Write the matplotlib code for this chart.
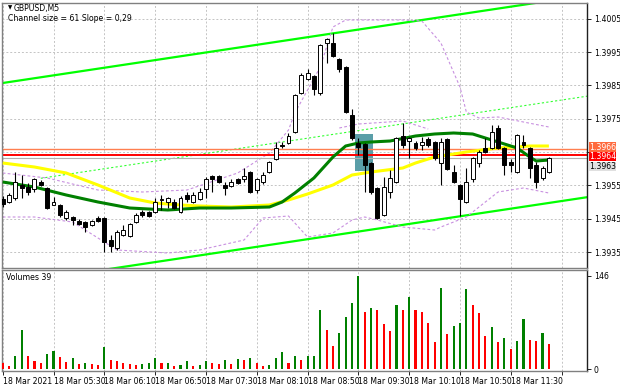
import matplotlib
matplotlib.use("Agg")
import matplotlib.pyplot as plt
import matplotlib.transforms as mtransforms
import numpy as np

# GBPUSD M5, 18 Mar 2021, bars from 04:50 to 12:00
opens = [
    1.39509, 1.39500, 1.39512, 1.39551, 1.39545, 1.39539, 1.39560, 1.39542, 1.39491, 1.39491,
    1.39452, 1.39455, 1.39443, 1.39440, 1.39431, 1.39452, 1.39452, 1.39386, 1.39362, 1.39401,
    1.39398, 1.39440, 1.39470, 1.39470, 1.39470, 1.39506, 1.39500, 1.39500, 1.39470, 1.39521,
    1.39500, 1.39509, 1.39539, 1.39578, 1.39578, 1.39551, 1.39548, 1.39569, 1.39569, 1.39590,
    1.39536, 1.39560, 1.39590, 1.39629, 1.39671, 1.39677, 1.39710, 1.39827, 1.39869, 1.39878,
    1.39827, 1.39977, 1.39977, 1.39929, 1.39905, 1.39761, 1.39677, 1.39674, 1.39617, 1.39542,
    1.39461, 1.39530, 1.39560, 1.39698, 1.39683, 1.39677, 1.39671, 1.39689, 1.39680, 1.39617,
    1.39689, 1.39590, 1.39551, 1.39500, 1.39569, 1.39617, 1.39662, 1.39662, 1.39722, 1.39662,
    1.39620, 1.39590, 1.39680, 1.39662, 1.39611, 1.39572, 1.39590]
highs = [
    1.39518, 1.39527, 1.39590, 1.39581, 1.39557, 1.39572, 1.39566, 1.39545, 1.39515, 1.39494,
    1.39476, 1.39458, 1.39449, 1.39443, 1.39446, 1.39458, 1.39455, 1.39401, 1.39416, 1.39431,
    1.39437, 1.39467, 1.39476, 1.39473, 1.39512, 1.39521, 1.39515, 1.39509, 1.39518, 1.39530,
    1.39530, 1.39542, 1.39575, 1.39581, 1.39581, 1.39560, 1.39569, 1.39572, 1.39602, 1.39593,
    1.39572, 1.39590, 1.39623, 1.39680, 1.39680, 1.39707, 1.39824, 1.39887, 1.39899, 1.39881,
    1.39974, 1.39992, 1.40007, 1.39932, 1.39908, 1.39779, 1.39692, 1.39677, 1.39620, 1.39545,
    1.39575, 1.39596, 1.39695, 1.39737, 1.39695, 1.39683, 1.39695, 1.39695, 1.39683, 1.39692,
    1.39692, 1.39611, 1.39554, 1.39602, 1.39635, 1.39656, 1.39692, 1.39731, 1.39731, 1.39665,
    1.39629, 1.39704, 1.39701, 1.39665, 1.39620, 1.39608, 1.39635]
lows = [
    1.39485, 1.39497, 1.39506, 1.39512, 1.39521, 1.39530, 1.39548, 1.39479, 1.39491, 1.39455,
    1.39446, 1.39431, 1.39431, 1.39410, 1.39428, 1.39440, 1.39350, 1.39350, 1.39356, 1.39398,
    1.39395, 1.39437, 1.39455, 1.39455, 1.39467, 1.39476, 1.39482, 1.39479, 1.39467, 1.39500,
    1.39497, 1.39506, 1.39512, 1.39530, 1.39557, 1.39521, 1.39545, 1.39554, 1.39560, 1.39527,
    1.39527, 1.39554, 1.39587, 1.39626, 1.39662, 1.39674, 1.39707, 1.39824, 1.39866, 1.39821,
    1.39821, 1.39917, 1.39935, 1.39890, 1.39767, 1.39686, 1.39641, 1.39530, 1.39524, 1.39449,
    1.39458, 1.39512, 1.39557, 1.39662, 1.39632, 1.39656, 1.39656, 1.39665, 1.39626, 1.39551,
    1.39596, 1.39557, 1.39458, 1.39497, 1.39560, 1.39605, 1.39647, 1.39659, 1.39659, 1.39581,
    1.39590, 1.39587, 1.39662, 1.39572, 1.39542, 1.39566, 1.39587]
closes = [
    1.39494, 1.39521, 1.39560, 1.39542, 1.39530, 1.39569, 1.39551, 1.39482, 1.39500, 1.39461,
    1.39470, 1.39446, 1.39434, 1.39425, 1.39443, 1.39443, 1.39380, 1.39368, 1.39410, 1.39416,
    1.39434, 1.39461, 1.39461, 1.39458, 1.39500, 1.39509, 1.39512, 1.39482, 1.39512, 1.39509,
    1.39521, 1.39530, 1.39569, 1.39569, 1.39560, 1.39542, 1.39560, 1.39557, 1.39578, 1.39530,
    1.39569, 1.39581, 1.39620, 1.39662, 1.39668, 1.39698, 1.39821, 1.39881, 1.39887, 1.39839,
    1.39971, 1.39989, 1.39938, 1.39899, 1.39770, 1.39692, 1.39665, 1.39611, 1.39530, 1.39452,
    1.39545, 1.39572, 1.39692, 1.39671, 1.39692, 1.39662, 1.39680, 1.39671, 1.39632, 1.39680,
    1.39599, 1.39560, 1.39509, 1.39560, 1.39632, 1.39650, 1.39650, 1.39710, 1.39662, 1.39611,
    1.39611, 1.39701, 1.39671, 1.39602, 1.39560, 1.39602, 1.39632]
volumes = [
    9, 5, 20, 61, 20, 13, 10, 23, 28, 19, 11, 17, 8, 9, 8, 7, 34, 14, 13, 10, 8, 6,
    8, 10, 17, 9, 10, 5, 7, 13, 5, 6, 13, 9, 8, 14, 8, 15, 14, 18, 10, 5, 7, 18, 27, 10, 20, 14, 20,
    21, 92, 61, 36, 57, 82, 104, 146, 89, 95, 93, 70, 60, 100, 93, 113, 92, 90, 72, 43, 127,
    55, 67, 72, 125, 101, 87, 52, 66, 43, 49, 31, 44, 78, 45, 44, 57, 39]

time_labels = ["18 Mar 2021", "18 Mar 05:30", "18 Mar 06:10", "18 Mar 06:50", "18 Mar 07:30",
               "18 Mar 08:10", "18 Mar 08:50", "18 Mar 09:30", "18 Mar 10:10", "18 Mar 10:50",
               "18 Mar 11:30"]
price_ticks = [1.4005, 1.3995, 1.3985, 1.3975, 1.3965, 1.3955, 1.3945, 1.3935]

# indicator lines (bar index, price)
yellow_bars = [0, 5, 10, 15, 20, 24, 28, 31, 36, 42, 45, 48, 52, 55, 58, 63, 65, 68, 73, 78, 83, 86]
yellow_vals = [1.39617, 1.39605, 1.39587, 1.39551, 1.39512, 1.39497, 1.39491, 1.39488, 1.39485,
               1.39491, 1.39506, 1.39524, 1.39551, 1.39581, 1.39590, 1.39602, 1.39617, 1.39635,
               1.39650, 1.39662, 1.39668, 1.39668]
green_bars = [0, 5, 10, 15, 20, 26, 31, 36, 42, 44, 46, 49, 52, 54, 56, 58, 61, 65, 68, 71, 74,
              77, 81, 83, 84, 86]
green_vals = [1.39560, 1.39545, 1.39521, 1.39500, 1.39482, 1.39476, 1.39482, 1.39482, 1.39485,
              1.39500, 1.39527, 1.39572, 1.39635, 1.39668, 1.39677, 1.39680, 1.39683, 1.39698,
              1.39704, 1.39707, 1.39704, 1.39686, 1.39662, 1.39635, 1.39623, 1.39626]
band_up_bars = [0, 7, 15, 22, 29, 37, 42, 45, 46, 50, 52, 54, 63, 66, 69, 72, 73, 75, 78, 86]
band_up_vals = [1.39587, 1.39572, 1.39536, 1.39530, 1.39536, 1.39587, 1.39647, 1.39716, 1.39767,
                1.39905, 1.40025, 1.40046, 1.40046, 1.40043, 1.39977, 1.39845, 1.39770, 1.39752,
                1.39755, 1.39725]
band_up2_bars = [53, 56, 63, 67]
band_up2_vals = [1.39722, 1.39734, 1.39743, 1.39719]
band_lo_bars = [0, 5, 11, 15, 18, 26, 31, 38, 41, 45, 48, 52, 55, 57, 59, 63, 68, 69, 73, 78, 82, 86]
band_lo_vals = [1.39455, 1.39455, 1.39440, 1.39392, 1.39356, 1.39347, 1.39356, 1.39386, 1.39452,
                1.39458, 1.39395, 1.39407, 1.39446, 1.39455, 1.39446, 1.39425, 1.39416, 1.39425,
                1.39455, 1.39530, 1.39542, 1.39527]

chan_bars = [0, 80]
chan_upper = [1.39857, 1.40086]
chan_width = 0.00606

level_orange = 1.3966
level_red = 1.3964
bid = 1.39632
box_bars = (55.5, 58.3)
box_prices = (1.39593, 1.39704)

FS = 5.6
grid_kw = dict(color="#c4c4c4", linestyle=(0, (2, 2)), linewidth=0.7)

fig = plt.figure(figsize=(6.2, 3.88), dpi=100)
ax = fig.add_axes([2 / 620, 1 - 268 / 388, 585 / 620, 265 / 388])
axv = fig.add_axes([2 / 620, 17 / 388, 585 / 620, 101 / 388])

n = len(opens)
x = np.arange(n)
o = np.array(opens); c = np.array(closes)
grid_bars = np.arange(0, 89, 8)

for a in (ax, axv):
    a.set_xlim(-0.11, 92.0)
    a.set_xticks(grid_bars)
    a.grid(axis="x", **grid_kw)
    a.set_axisbelow(True)
    for s in a.spines.values():
        s.set_color("#808080")
        s.set_linewidth(1.0)
    a.spines["right"].set_color("#202020")

ax.set_ylim(1.39302, 1.40097)
ax.set_yticks(price_ticks)
# 1.3965 sits under the level labels on the reference, so its text is left blank
ax.set_yticklabels(["" if p == 1.3965 else f"{p:.4f}" for p in price_ticks])
ax.grid(axis="y", **grid_kw)
ax.yaxis.tick_right()
ax.tick_params(axis="y", labelsize=FS, length=3, width=0.6, pad=2, colors="black")
ax.tick_params(axis="x", length=0, labelbottom=False)

# box
ax.add_patch(plt.Rectangle((box_bars[0], box_prices[0]), box_bars[1] - box_bars[0],
                           box_prices[1] - box_prices[0], facecolor="#5a9ea8", edgecolor="none", zorder=1))

# channel
slope = (chan_upper[1] - chan_upper[0]) / (chan_bars[1] - chan_bars[0])
cx = np.array([-1, 93])
up = chan_upper[0] + slope * (cx - chan_bars[0])
ax.plot(cx, up, color="#00ff00", lw=1.6, zorder=2)
ax.plot(cx, up - chan_width, color="#00ff00", lw=1.6, zorder=2)
mx = np.array([6, 93])
ax.plot(mx, chan_upper[0] + slope * (mx - chan_bars[0]) - chan_width / 2, color="#33ff33",
        lw=0.8, linestyle=(0, (2, 2)), zorder=2)

# bands
band_kw = dict(color="#c890e0", lw=0.8, linestyle=(0, (2.5, 2)), zorder=2)
ax.plot(band_up_bars, band_up_vals, **band_kw)
ax.plot(band_up2_bars, band_up2_vals, **band_kw)
ax.plot(band_lo_bars, band_lo_vals, **band_kw)

# levels
ax.axhline(bid, color="#b0b0b0", lw=0.8, zorder=2)
ax.axhline(level_orange, color="#ff7f50", lw=1.0, zorder=2)
ax.axhline(level_red, color="#ff0000", lw=1.4, zorder=2)

# moving averages
ax.plot(yellow_bars, yellow_vals, color="#ffff00", lw=2.2, zorder=3, solid_capstyle="butt")
ax.plot(green_bars, green_vals, color="#008000", lw=2.2, zorder=3, solid_capstyle="butt")

# candles
ax.vlines(x, lows, highs, color="black", lw=0.8, zorder=4)
bull = c >= o
body_lo = np.minimum(o, c)
body_h = np.maximum(np.abs(c - o), 0.00003)
ax.bar(x, body_h, bottom=body_lo, width=0.62, color=np.where(bull, "white", "black"),
       edgecolor="black", linewidth=0.7, zorder=5)

# price labels on the right, stacked so they touch but do not cover each other
trans = mtransforms.blended_transform_factory(ax.transAxes, ax.transData)
lab_kw = dict(transform=trans, fontsize=FS, va="center", ha="left", clip_on=False, zorder=10)
box = "square,pad=0.03"
ax.text(1.003, 1.39665, f"{level_orange:.4f}", color="white",
        bbox=dict(boxstyle=box, fc="#ff6a3d", ec="none"), **lab_kw)
ax.text(1.003, 1.39636, f"{level_red:.4f}", color="white",
        bbox=dict(boxstyle=box, fc="#ff0000", ec="none"), **lab_kw)
ax.text(1.003, 1.39606, f"{bid:.4f}", color="black",
        bbox=dict(boxstyle=box, fc="#e0e0e0", ec="none"), **lab_kw)

# volumes
vcol = ["#ff0000"] + ["#008000" if volumes[i] > volumes[i - 1] else "#ff0000" for i in range(1, n)]
axv.bar(x, volumes, width=0.33, color=vcol, zorder=3)
axv.set_ylim(-3, 155)
axv.set_yticks([0, 146])
axv.yaxis.tick_right()
axv.tick_params(axis="y", labelsize=FS, length=3, width=0.6, pad=2)
axv.set_xticklabels(time_labels + [""])
axv.tick_params(axis="x", labelsize=FS, length=3, width=0.6, pad=1.5)
for lbl in axv.get_xticklabels():
    lbl.set_horizontalalignment("left")

fig.text(8 / 620, 1 - 8 / 388, "\u25bc", fontsize=4, va="center", ha="left")
fig.text(14 / 620, 1 - 8 / 388, "GBPUSD,M5", fontsize=FS, va="center", ha="left")
fig.text(8 / 620, 1 - 18.5 / 388, "Channel size = 61 Slope = 0,29", fontsize=FS, va="center", ha="left")
fig.text(6 / 620, 1 - 277 / 388, "Volumes 39", fontsize=FS, va="center", ha="left")

fig.savefig("out.png", dpi=100)
